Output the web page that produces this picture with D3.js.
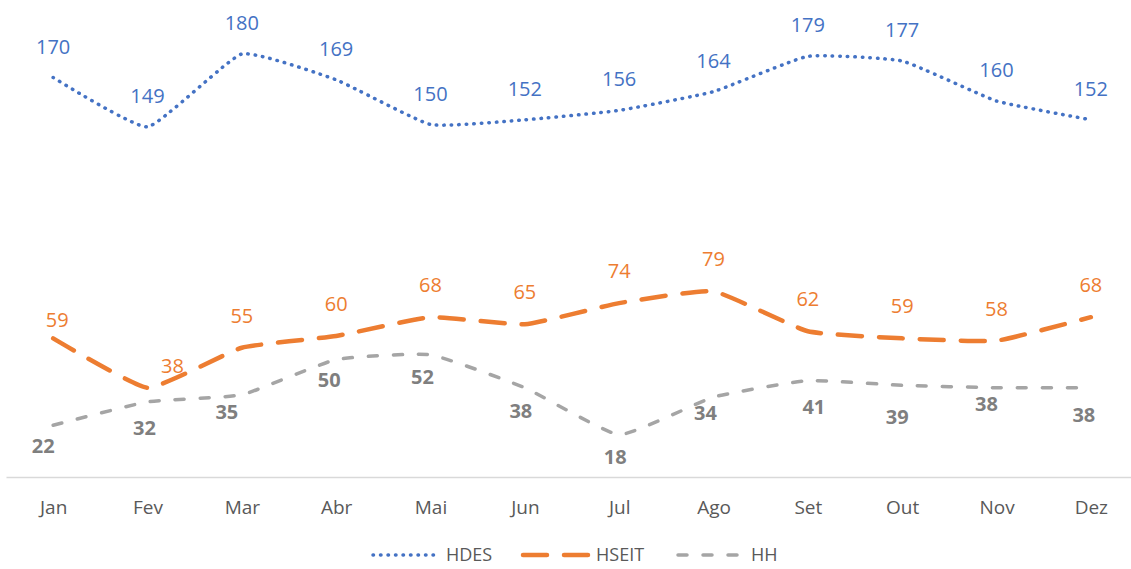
<!DOCTYPE html>
<html>
<head>
<meta charset="utf-8">
<script src="https://cdn.jsdelivr.net/npm/d3@7"></script>
<style>
  body { margin: 0; background: #fff; }
  svg { display: block; }
  svg text { font-family: "Open Sans", "Noto Sans", sans-serif; }
</style>
</head>
<body>
<div id="chart"></div>
<script>
// chart values
var months = ["Jan", "Fev", "Mar", "Abr", "Mai", "Jun", "Jul", "Ago", "Set", "Out", "Nov", "Dez"];
var hdes = [170, 149, 180, 169, 150, 152, 156, 164, 179, 177, 160, 152];
var hseit = [59, 38, 55, 60, 68, 65, 74, 79, 62, 59, 58, 68];
var hh = [22, 32, 35, 50, 52, 38, 18, 34, 41, 39, 38, 38];
var seriesNames = ["HDES", "HSEIT", "HH"];

// label nudges (moved by hand in the original)
var hseitShift = [[4, -18], [25, -22], [0, -32], [0, -32], [0, -32], [0, -32], [0, -32], [0, -32], [0, -32], [0, -32], [0, -32], [0, -32]];
var hhShift = [[-10, 21], [-3, 26], [-15, 17], [-7, 20], [-8, 22], [-4, 23], [-4, 22], [-8, 16], [6, 26], [-5, 32], [-10, 16], [-7, 27]];

var width = 1131, height = 569;

var svg = d3.select("#chart").append("svg")
  .attr("width", width)
  .attr("height", height);

var x = d3.scalePoint()
  .domain(months)
  .range([6, 1138])
  .padding(0.5);

var y = d3.scaleLinear()
  .domain([0, 200])
  .range([477, 7]);

// x axis
var xAxis = svg.append("g")
  .attr("transform", "translate(0," + y(0) + ")")
  .call(d3.axisBottom(x).tickSize(0).tickSizeOuter(0));
xAxis.select(".domain").attr("stroke", "#D9D9D9").attr("stroke-width", 1.5);
xAxis.selectAll("text")
  .attr("y", 30)
  .attr("dy", "0.35em")
  .attr("fill", "#595959")
  .style("font-size", "19px");

var series = [
  { name: "HDES", values: hdes, color: "#4472C4", width: 3.5, dash: "0.5 7", label: "#4472C4", bold: false },
  { name: "HSEIT", values: hseit, color: "#ED7D31", width: 4.5, dash: "24 17", label: "#ED7D31", bold: false },
  { name: "HH", values: hh, color: "#A5A5A5", width: 3.5, dash: "9 16", label: "#7F7F7F", bold: true }
];

var line = d3.line()
  .x((d, i) => x(months[i]))
  .y(d => y(d))
  .curve(d3.curveCardinal.tension(0.6));

series.forEach(function(s) {
  svg.append("path")
    .datum(s.values)
    .attr("d", line)
    .attr("fill", "none")
    .attr("stroke", s.color)
    .attr("stroke-width", s.width)
    .attr("stroke-dasharray", s.dash)
    .attr("stroke-linecap", "round");
});

// data labels
function labelOffset(name, i) {
  if (name === "HDES") return [0, -31];
  if (name === "HSEIT") return hseitShift[i];
  return hhShift[i];
}

series.forEach(function(s) {
  svg.append("g").selectAll("text")
    .data(s.values)
    .enter()
    .append("text")
    .attr("x", (d, i) => x(months[i]) + labelOffset(s.name, i)[0])
    .attr("y", (d, i) => y(d) + labelOffset(s.name, i)[1])
    .attr("dy", "0.35em")
    .attr("text-anchor", "middle")
    .attr("fill", s.label)
    .style("font-size", "20px")
    .style("font-weight", s.bold ? "bold" : "normal")
    .text(d => d);
});

// legend
var legendX = [373, 523, 678];
var legend = svg.append("g").attr("transform", "translate(0,555)");
series.forEach(function(s, i) {
  var g = legend.append("g").attr("transform", "translate(" + legendX[i] + ",0)");
  g.append("line")
    .attr("x1", 0).attr("x2", 66)
    .attr("y1", 0).attr("y2", 0)
    .attr("stroke", s.color)
    .attr("stroke-width", s.width)
    .attr("stroke-dasharray", s.dash)
    .attr("stroke-linecap", "round");
  g.append("text")
    .attr("x", 73)
    .attr("dy", "0.35em")
    .attr("fill", "#595959")
    .style("font-size", "18px")
    .text(seriesNames[i]);
});
</script>
</body>
</html>
